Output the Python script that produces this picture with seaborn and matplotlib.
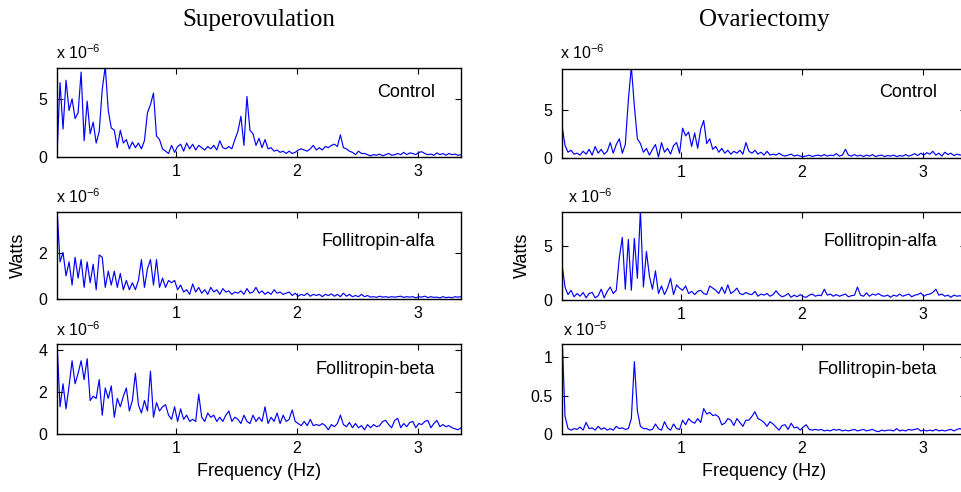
import numpy as np
import pandas as pd
import matplotlib
matplotlib.use("Agg")
import matplotlib.pyplot as plt
import seaborn as sns

# ---------------- data (power, in units of the axis multiplier) ----------------
freq_start = 0.01
freq_step = 0.025
n_bins = 135

so_control = [0.2, 6.4, 2.4, 6.6, 4.0, 5.0, 3.3, 3.8, 7.3, 1.4,
              4.8, 2.0, 3.0, 1.2, 2.2, 5.8, 7.8, 4.0, 2.5, 2.3,
              0.8, 2.3, 1.2, 1.5, 0.7, 1.3, 0.8, 1.2, 0.7, 1.4,
              3.8, 4.5, 5.5, 1.8, 1.5, 0.7, 0.5, 0.3, 1.0, 0.4,
              0.9, 1.1, 0.5, 1.2, 0.7, 1.1, 0.6, 1.0, 0.8, 0.6,
              0.9, 0.7, 1.0, 0.6, 1.4, 0.8, 0.7, 0.9, 0.7, 1.5,
              2.2, 3.5, 1.0, 5.2, 2.3, 2.0, 1.0, 1.6, 0.8, 1.5,
              0.7, 0.8, 0.5, 0.6, 0.4, 0.5, 0.3, 0.5, 0.3, 0.4,
              0.6, 0.7, 0.6, 0.5, 0.7, 1.0, 0.6, 0.8, 0.6, 0.9,
              0.8, 1.0, 1.1, 0.9, 1.9, 0.8, 0.7, 0.5, 0.4, 0.2,
              0.5, 0.3, 0.3, 0.2, 0.1, 0.2, 0.15, 0.25, 0.1, 0.2,
              0.3, 0.15, 0.2, 0.3, 0.2, 0.4, 0.2, 0.35, 0.3, 0.2,
              0.4, 0.45, 0.3, 0.2, 0.25, 0.15, 0.35, 0.2, 0.3, 0.15,
              0.3, 0.2, 0.25, 0.15, 0.2]

so_alfa = [3.9, 1.6, 2.0, 1.0, 1.6, 0.6, 1.8, 0.9, 1.7, 0.5,
           1.6, 0.7, 1.5, 0.4, 1.9, 1.8, 0.5, 1.2, 0.6, 1.2,
           0.5, 1.1, 0.4, 0.8, 0.4, 0.7, 0.4, 0.8, 1.7, 0.5,
           1.3, 1.7, 0.6, 1.7, 0.5, 0.9, 0.5, 0.8, 0.7, 0.8,
           0.4, 0.6, 0.3, 0.4, 0.2, 0.65, 0.3, 0.5, 0.25, 0.4,
           0.2, 0.5, 0.3, 0.4, 0.2, 0.45, 0.3, 0.35, 0.2, 0.3,
           0.25, 0.35, 0.2, 0.45, 0.25, 0.3, 0.5, 0.25, 0.35, 0.2,
           0.3, 0.2, 0.4, 0.25, 0.3, 0.2, 0.25, 0.3, 0.15, 0.25,
           0.12, 0.2, 0.15, 0.25, 0.12, 0.2, 0.15, 0.2, 0.1, 0.2,
           0.15, 0.22, 0.12, 0.2, 0.1, 0.25, 0.12, 0.2, 0.1, 0.15,
           0.1, 0.2, 0.1, 0.15, 0.08, 0.1, 0.07, 0.12, 0.08, 0.1,
           0.07, 0.1, 0.08, 0.1, 0.12, 0.07, 0.1, 0.08, 0.1, 0.05,
           0.1, 0.08, 0.12, 0.06, 0.1, 0.07, 0.08, 0.05, 0.1, 0.06,
           0.08, 0.05, 0.1, 0.08, 0.1]

so_beta = [4.4, 1.3, 2.4, 1.2, 2.3, 3.5, 2.4, 2.9, 3.5, 2.6,
           3.6, 1.6, 1.8, 1.7, 2.6, 0.9, 2.2, 1.7, 2.3, 0.8,
           1.7, 1.3, 1.8, 2.2, 1.1, 1.6, 2.9, 1.4, 1.0, 1.6,
           1.1, 3.0, 0.8, 1.5, 1.1, 1.3, 1.4, 0.9, 0.7, 1.3,
           0.6, 1.2, 0.7, 0.9, 0.6, 0.7, 0.6, 1.9, 0.8, 0.6,
           1.0, 0.8, 0.9, 0.6, 0.8, 0.6, 0.9, 1.1, 0.6, 0.8,
           0.7, 0.5, 0.9, 0.6, 0.5, 0.9, 0.6, 0.8, 0.6, 1.3,
           0.5, 0.8, 0.6, 1.0, 0.5, 0.9, 0.6, 0.7, 1.15, 0.6,
           0.5, 0.4, 0.6, 0.4, 0.7, 0.4, 0.45, 0.4, 0.5, 0.4,
           0.2, 0.45, 0.35, 0.5, 0.9, 0.45, 0.35, 0.55, 0.3, 0.5,
           0.3, 0.4, 0.2, 0.45, 0.3, 0.45, 0.35, 0.4, 0.6, 0.65,
           0.45, 0.3, 0.65, 0.75, 0.3, 0.5, 0.35, 0.55, 0.6, 0.3,
           0.5, 0.45, 0.6, 0.65, 0.3, 0.5, 0.65, 0.35, 0.45, 0.35,
           0.4, 0.3, 0.25, 0.2, 0.3]

ovx_control = [3.4, 1.3, 0.6, 0.8, 0.4, 0.5, 0.3, 0.7, 0.4, 0.9,
               0.3, 1.2, 0.5, 0.9, 0.4, 0.7, 1.6, 0.5, 1.4, 2.0,
               0.5, 1.4, 6.0, 9.5, 5.4, 2.0, 1.5, 0.6, 1.0, 0.3,
               0.9, 1.4, 0.1, 1.6, 0.6, 1.0, 0.4, 1.3, 1.6, 0.5,
               3.1, 2.3, 2.7, 1.2, 2.6, 1.0, 3.0, 3.9, 1.5, 2.0,
               0.9, 1.2, 0.6, 1.0, 0.5, 0.8, 0.4, 0.7, 0.5, 0.8,
               0.4, 1.6, 0.7, 0.5, 0.8, 0.4, 0.6, 0.3, 0.7, 0.3,
               0.4, 0.3, 0.5, 0.3, 0.2, 0.3, 0.4, 0.2, 0.3, 0.2,
               0.15, 0.2, 0.3, 0.15, 0.25, 0.3, 0.2, 0.35, 0.2, 0.3,
               0.25, 0.45, 0.2, 0.3, 0.9, 0.3, 0.2, 0.35, 0.2, 0.3,
               0.15, 0.3, 0.2, 0.35, 0.15, 0.25, 0.3, 0.15, 0.25, 0.2,
               0.3, 0.15, 0.25, 0.2, 0.35, 0.2, 0.3, 0.45, 0.25, 0.5,
               0.3, 0.55, 0.4, 0.7, 0.3, 0.5, 0.2, 0.6, 0.35, 0.5,
               0.25, 0.4, 0.3, 0.35, 0.25]

ovx_alfa = [3.3, 1.2, 0.5, 0.9, 0.3, 0.6, 0.35, 0.7, 0.2, 0.6,
            0.7, 0.2, 0.4, 1.0, 0.2, 0.8, 1.2, 0.6, 0.9, 3.9,
            5.8, 1.0, 5.6, 0.9, 5.7, 2.0, 8.3, 1.2, 4.5, 2.2,
            1.0, 2.7, 0.6, 1.3, 0.5, 1.1, 2.0, 0.5, 1.4, 1.1,
            0.9, 1.3, 0.6, 0.8, 0.5, 0.8, 0.9, 0.6, 0.5, 1.3,
            1.1, 0.9, 0.6, 1.2, 0.6, 1.4, 0.6, 0.8, 1.1, 0.6,
            0.5, 0.7, 0.55, 0.5, 0.8, 0.35, 0.55, 0.45, 0.6, 0.35,
            0.5, 0.85, 0.5, 0.3, 0.4, 0.6, 0.25, 0.45, 0.3, 0.5,
            0.3, 0.25, 0.45, 0.55, 0.35, 0.45, 0.4, 1.0, 0.45, 0.55,
            0.35, 0.5, 0.35, 0.45, 0.55, 0.3, 0.4, 0.45, 1.2, 0.45,
            0.35, 0.65, 0.35, 0.55, 0.45, 0.6, 0.4, 0.35, 0.45, 0.25,
            0.45, 0.35, 0.55, 0.35, 0.45, 0.55, 0.3, 0.45, 0.5, 0.65,
            0.35, 0.5, 0.55, 0.7, 1.0, 0.45, 0.55, 0.35, 0.45, 0.25,
            0.45, 0.35, 0.4, 0.3, 0.4]

ovx_beta = [1.3, 0.23, 0.07, 0.05, 0.07, 0.06, 0.09, 0.05, 0.15, 0.07,
            0.08, 0.05, 0.1, 0.06, 0.08, 0.05, 0.07, 0.05, 0.1, 0.07,
            0.08, 0.06, 0.07, 0.2, 0.94, 0.3, 0.1, 0.07, 0.07, 0.05,
            0.06, 0.13, 0.07, 0.05, 0.16, 0.08, 0.05, 0.13, 0.07, 0.06,
            0.18, 0.12, 0.2, 0.16, 0.14, 0.2, 0.15, 0.33, 0.26, 0.28,
            0.24, 0.25, 0.22, 0.12, 0.14, 0.2, 0.18, 0.11, 0.2, 0.15,
            0.1, 0.18, 0.18, 0.23, 0.29, 0.2, 0.18, 0.15, 0.1, 0.16,
            0.13, 0.09, 0.05, 0.11, 0.12, 0.06, 0.14, 0.08, 0.09, 0.05,
            0.09, 0.12, 0.06, 0.05, 0.06, 0.05, 0.06, 0.04, 0.05, 0.04,
            0.06, 0.05, 0.06, 0.04, 0.05, 0.04, 0.05, 0.06, 0.04, 0.05,
            0.06, 0.04, 0.05, 0.06, 0.04, 0.03, 0.05, 0.04, 0.05, 0.05,
            0.04, 0.07, 0.04, 0.05, 0.04, 0.06, 0.05, 0.06, 0.07, 0.04,
            0.05, 0.04, 0.05, 0.04, 0.06, 0.04, 0.05, 0.04, 0.05, 0.06,
            0.04, 0.06, 0.07, 0.05, 0.06]

column_titles = ["Superovulation", "Ovariectomy"]
row_labels = ["Control", "Follitropin-alfa", "Follitropin-beta"]
x_ticks = [1, 2, 3]

freq = freq_start + freq_step * np.arange(n_bins)

# ---------------- styling ----------------
sns.set_style("ticks")
plt.rcParams["font.family"] = ["Liberation Sans", "DejaVu Sans"]
plt.rcParams["mathtext.fontset"] = "custom"
plt.rcParams["mathtext.rm"] = "Liberation Sans"
plt.rcParams["mathtext.it"] = "Liberation Sans:italic"
plt.rcParams["mathtext.bf"] = "Liberation Sans:bold"
plt.rcParams["axes.edgecolor"] = "black"
plt.rcParams["text.color"] = "black"
plt.rcParams["xtick.color"] = "black"
plt.rcParams["ytick.color"] = "black"

W, H = 962, 492
fig = plt.figure(figsize=(W / 100, H / 100), dpi=100)

col_left = [57, 562]
ax_w = 404
rows_px = [[(68, 157), (212, 299), (344, 434)],
           [(69, 158), (212, 300), (344, 434)]]

panels = [
    # col, row, values, ymax, yticks, yticklabels, exponent
    (0, 0, so_control, 7.65, [0, 5], ["0", "5"], "-6"),
    (0, 1, so_alfa, 3.75, [0, 2], ["0", "2"], "-6"),
    (0, 2, so_beta, 4.3, [0, 2, 4], ["0", "2", "4"], "-6"),
    (1, 0, ovx_control, 9.25, [0, 5], ["0", "5"], "-6"),
    (1, 1, ovx_alfa, 8.15, [0, 5], ["0", "5"], "-6"),
    (1, 2, ovx_beta, 1.17, [0, 0.5, 1], ["0", "0.5", "1"], "-5"),
]
expo_pos = {(0, 0): (56, 53), (0, 1): (56, 197), (0, 2): (56, 330),
            (1, 0): (560, 53), (1, 1): (568, 197), (1, 2): (563, 330)}
label_pos = {(0, 0): (0.936, 0.73), (0, 1): (0.936, 0.66), (0, 2): (0.936, 0.72),
             (1, 0): (0.928, 0.74), (1, 1): (0.928, 0.66), (1, 2): (0.928, 0.72)}

for col, row, vals, ymax, yt, ytl, expo in panels:
    top, bot = rows_px[col][row]
    rect = [col_left[col] / W, 1 - bot / H, ax_w / W, (bot - top) / H]
    ax = fig.add_axes(rect)
    df = pd.DataFrame({"Frequency": freq, "Power": vals})
    sns.lineplot(data=df, x="Frequency", y="Power", ax=ax, color="#0000ff",
                 linewidth=0.85, estimator=None, sort=False)
    ax.set_xlim(0.01, 3.36)
    ax.set_ylim(0, ymax)
    ax.set_xticks(x_ticks)
    ax.set_xticklabels([str(t) for t in x_ticks])
    ax.set_yticks(yt)
    ax.set_yticklabels(ytl)
    ax.set_xlabel("")
    ax.set_ylabel("")
    ax.tick_params(direction="in", length=4, width=0.8, top=True, right=True,
                   labelsize=11.5, colors="black")
    ax.tick_params(axis="x", pad=5)
    ax.tick_params(axis="y", pad=7)
    for s in ax.spines.values():
        s.set_visible(True)
        s.set_linewidth(1.0)
        s.set_color("black")
    lx, ly = label_pos[(col, row)]
    ax.text(lx, ly, row_labels[row], transform=ax.transAxes, ha="right",
            va="center", fontsize=13, color="black")
    ex, ey = expo_pos[(col, row)]
    fig.text(ex / W, 1 - ey / H, "x 10$^{" + expo + "}$", ha="left",
             va="center", fontsize=11.5, color="black")

# column titles and x labels
for col, title in enumerate(column_titles):
    cx = (col_left[col] + ax_w / 2) / W
    fig.text(cx, 1 - 20 / H, title, ha="center", va="center", fontsize=18,
             family=["Liberation Serif", "DejaVu Serif"], color="black")
    fig.text(cx, 1 - 471 / H, "Frequency (Hz)", ha="center", va="center",
             fontsize=13, color="black")

# y-axis label on the middle row
for col in range(2):
    xx = 18 if col == 0 else 522
    fig.text(xx / W, 1 - 255 / H, "Watts", rotation=90, ha="center",
             va="center", fontsize=13, color="black")

fig.savefig("out.png", dpi=100)
